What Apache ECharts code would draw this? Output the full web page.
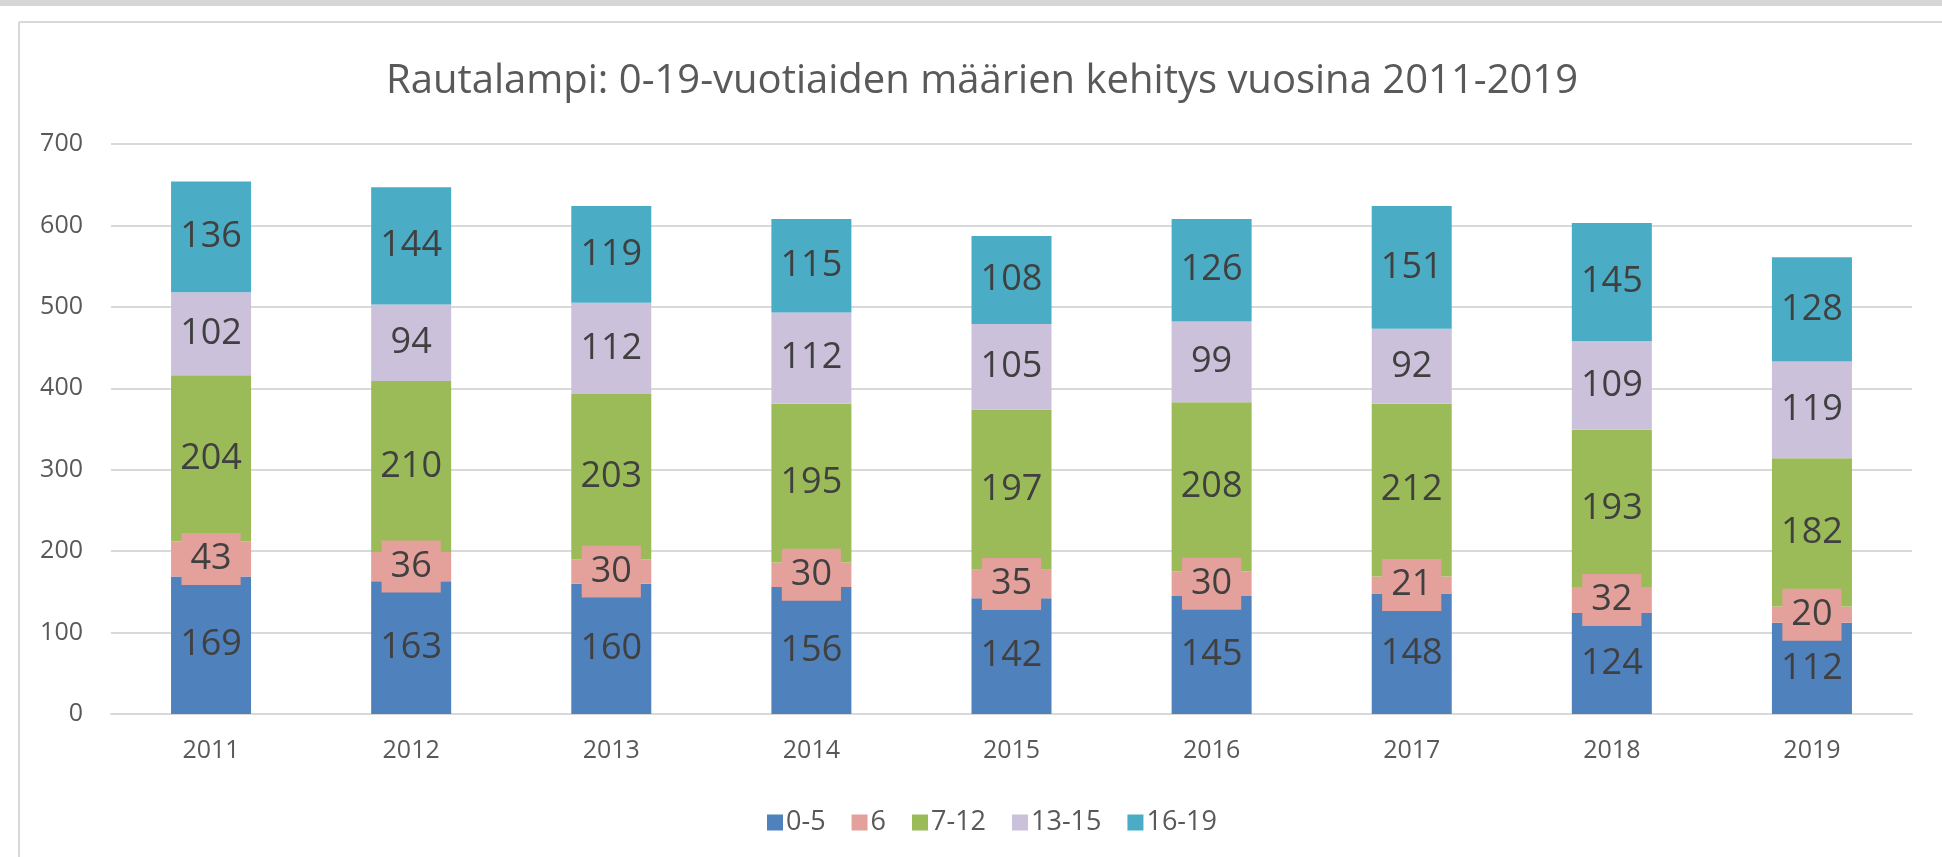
<!DOCTYPE html>
<html>
<head>
<meta charset="utf-8">
<script src="https://cdn.jsdelivr.net/npm/echarts@6/dist/echarts.min.js"></script>
<style>
  html, body { margin: 0; padding: 0; background: #fff; }
  #chart { width: 1942px; height: 857px; }
</style>
</head>
<body>
<div id="chart"></div>
<script>
// vuodet ja ikäryhmät
let years = ['2011', '2012', '2013', '2014', '2015', '2016', '2017', '2018', '2019']
let groups = ['0-5', '6', '7-12', '13-15', '16-19']
let age0to5 = [169, 163, 160, 156, 142, 145, 148, 124, 112]
let age6 = [43, 36, 30, 30, 35, 30, 21, 32, 20]
let age7to12 = [204, 210, 203, 195, 197, 208, 212, 193, 182]
let age13to15 = [102, 94, 112, 112, 105, 99, 92, 109, 119]
let age16to19 = [136, 144, 119, 115, 108, 126, 151, 145, 128]
let yTicks = [0, 100, 200, 300, 400, 500, 600, 700]

let colors = ['#4f81bd', '#e4a09b', '#9bbb59', '#ccc1da', '#4bacc6']
let values = [age0to5, age6, age7to12, age13to15, age16to19]
let font = '"Open Sans", "Liberation Sans", sans-serif'

let myChart = echarts.init(document.getElementById('chart'))

// sarjat pinottuina
let series = groups.map((name, i) => {
  let label = {
    show: true,
    position: 'inside',
    color: '#404040',
    fontSize: 36,
    fontFamily: font
  }
  // 6-vuotiaiden otsikolla on oma tausta
  if (name === '6') {
    label.backgroundColor = colors[i]
    label.padding = [8, 9, 8, 9]
  }
  return {
    name: name,
    type: 'bar',
    stack: 'total',
    barWidth: 80,
    itemStyle: { color: colors[i] },
    label: label,
    data: values[i]
  }
})

let option = {
  animation: false,
  backgroundColor: '#fff',
  graphic: [
    // ylänauha ja kehys
    { type: 'rect', shape: { x: 0, y: 0, width: 1942, height: 6 }, style: { fill: '#d6d6d6' } },
    { type: 'line', shape: { x1: 19, y1: 22, x2: 1942, y2: 22 }, style: { stroke: '#d9d9d9', lineWidth: 2 } },
    { type: 'line', shape: { x1: 19, y1: 22, x2: 19, y2: 857 }, style: { stroke: '#d9d9d9', lineWidth: 2 } }
  ],
  title: {
    text: 'Rautalampi: 0-19-vuotiaiden määrien kehitys vuosina 2011-2019',
    left: 381,
    top: 57,
    textStyle: {
      color: '#595959',
      fontSize: 40,
      fontWeight: 'normal',
      fontFamily: font
    }
  },
  legend: {
    data: groups,
    left: 762,
    top: 804,
    itemWidth: 16,
    itemHeight: 16,
    itemGap: 26,
    icon: 'rect',
    textStyle: { color: '#595959', fontSize: 27, fontFamily: font, padding: [0, 0, 0, -2] }
  },
  grid: { left: 111, right: 30, top: 144, bottom: 143 },
  xAxis: {
    type: 'category',
    data: years,
    axisLine: { lineStyle: { color: '#d9d9d9', width: 2 } },
    axisTick: { show: false },
    axisLabel: { color: '#595959', fontSize: 25, fontFamily: font, margin: 24 }
  },
  yAxis: {
    type: 'value',
    min: yTicks[0],
    max: yTicks[yTicks.length - 1],
    interval: 100,
    axisLine: { show: false },
    axisTick: { show: false },
    splitLine: { lineStyle: { color: '#d9d9d9', width: 2 } },
    axisLabel: { color: '#595959', fontSize: 25, fontFamily: font, margin: 28 }
  },
  series: series
}

myChart.setOption(option)
</script>
</body>
</html>
